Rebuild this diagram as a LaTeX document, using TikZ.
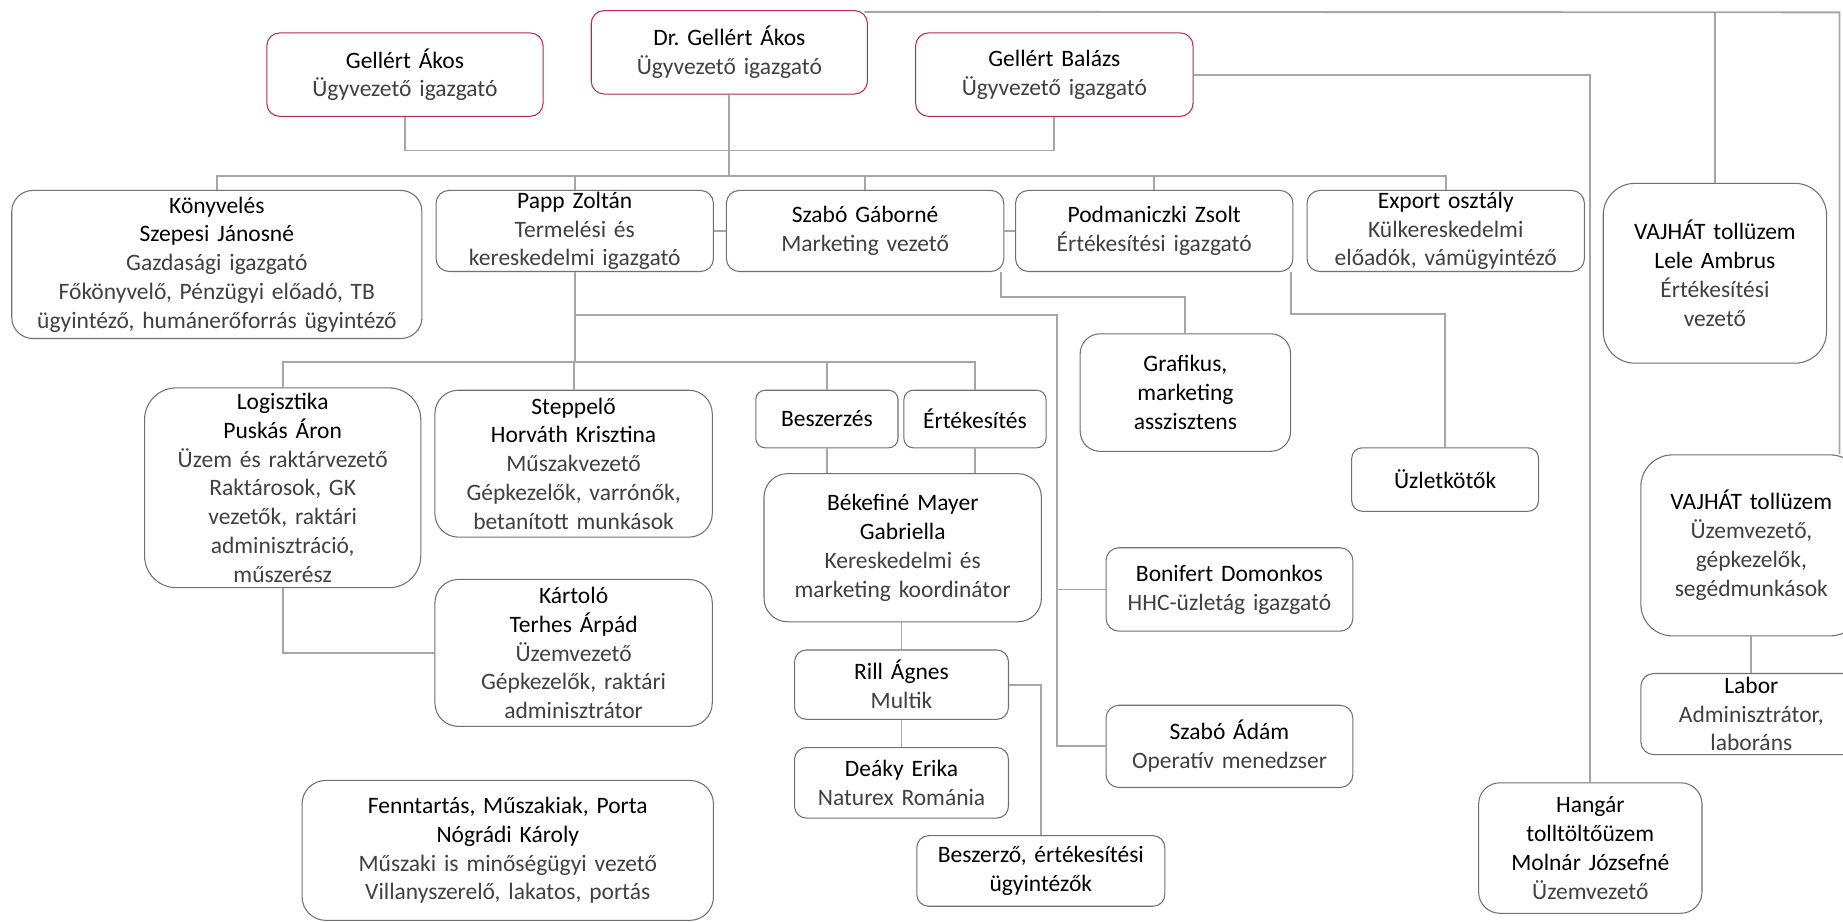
\documentclass[tikz,border=0pt]{standalone}
\usepackage{fontspec}
\setmainfont{Carlito}
\frenchspacing
\begin{document}
\begin{tikzpicture}[x=1pt, y=-1pt,
  box/.style={draw=boxgray, line width=0.9pt, fill=white, rounded corners=11, align=center, inner xsep=2pt, inner ysep=0pt, font=\fontsize{20}{24.5}\selectfont},
  topbox/.style={box, draw=topred},
  link/.style={draw=linegray, line width=1.6pt}]
\definecolor{boxgray}{HTML}{707070}
\definecolor{topred}{HTML}{B22B5A}
\definecolor{linegray}{HTML}{A6A6A6}
\definecolor{sub}{HTML}{404040}
\clip (0,0) rectangle (1568,784);
\node[topbox, text width=231, minimum height=71] (gakos) at (344.5,63.5) {Gellért Ákos\\\color{sub}Ügyvezető igazgató};
\node[topbox, text width=231, minimum height=71] (drgellert) at (620.5,44.5) {Dr. Gellért Ákos\\\color{sub}Ügyvezető igazgató};
\node[topbox, text width=232, minimum height=71] (gbalazs) at (897,63.5) {Gellért Balázs\\\color{sub}Ügyvezető igazgató};
\node[box, rounded corners=18, text width=345, minimum height=126] (konyv) at (184.5,225) {Könyvelés\\Szepesi Jánosné\\\color{sub}Gazdasági igazgató\\Főkönyvelő, Pénzügyi előadó, TB\\ügyintéző, humánerőforrás ügyintéző};
\node[box, text width=232, minimum height=69] (papp) at (489,196.5) {Papp Zoltán\\\color{sub}Termelési és\\kereskedelmi igazgató};
\node[box, text width=232, minimum height=69] (szabog) at (736,196.5) {Szabó Gáborné\\\color{sub}Marketing vezető};
\node[box, text width=232, minimum height=69] (podm) at (982,196.5) {Podmaniczki Zsolt\\\color{sub}Értékesítési igazgató};
\node[box, text width=232, minimum height=69] (export) at (1230,196.5) {Export osztály\\\color{sub}Külkereskedelmi\\előadók, vámügyintéző};
\node[box, rounded corners=27, text width=186, minimum height=153] (vajhat1) at (1459,232.5) {VAJHÁT tollüzem\\Lele Ambrus\\\color{sub}Értékesítési\\vezető};
\node[box, rounded corners=27, text width=231, minimum height=170] (logist) at (240.5,415) {Logisztika\\Puskás Áron\\\color{sub}Üzem és raktárvezető\\Raktárosok, GK\\vezetők, raktári\\adminisztráció,\\műszerész};
\node[box, rounded corners=20, text width=232, minimum height=125] (steppelo) at (488,394.5) {Steppelő\\Horváth Krisztina\\\color{sub}Műszakvezető\\Gépkezelők, varrónők,\\betanított munkások};
\node[box, rounded corners=8, text width=117, minimum height=49] (beszerzes) at (703.5,356.5) {Beszerzés};
\node[box, rounded corners=8, text width=117, minimum height=49] (ertekesites) at (829.5,356.5) {Értékesítés};
\node[box, rounded corners=20, text width=232, minimum height=126] (bekef) at (768,466) {Békefiné Mayer\\Gabriella\\\color{sub}Kereskedelmi és\\marketing koordinátor};
\node[box, rounded corners=17, text width=175, minimum height=100] (grafikus) at (1008.5,334) {Grafikus,\\marketing\\asszisztens};
\node[box, rounded corners=9, text width=155, minimum height=54] (uzlet) at (1229.5,408) {Üzletkötők};
\node[box, rounded corners=27, text width=184, minimum height=154] (vajhat2) at (1490,464) {VAJHÁT tollüzem\\\color{sub}Üzemvezető,\\gépkezelők,\\segédmunkások};
\node[box, text width=184, minimum height=69] (labor) at (1490,607.5) {Labor\\\color{sub}Adminisztrátor,\\laboráns};
\node[box, rounded corners=18, text width=186, minimum height=111] (hangar) at (1353,721.5) {Hangár\\tolltöltőüzem\\Molnár Józsefné\\\color{sub}Üzemvezető};
\node[box, text width=206, minimum height=71] (bonif) at (1046,501.5) {Bonifert Domonkos\\\color{sub}HHC-üzletág igazgató};
\node[box, text width=206, minimum height=70] (szadam) at (1046,635) {Szabó Ádám\\\color{sub}Operatív menedzser};
\node[box, rounded corners=20, text width=232, minimum height=125] (kartolo) at (488,555.5) {Kártoló\\Terhes Árpád\\\color{sub}Üzemvezető\\Gépkezelők, raktári\\adminisztrátor};
\node[box, rounded corners=10, text width=178, minimum height=59] (rill) at (767,582.5) {Rill Ágnes\\\color{sub}Multik};
\node[box, rounded corners=10, text width=178, minimum height=60] (deaky) at (767,666) {Deáky Erika\\\color{sub}Naturex Románia};
\node[box, rounded corners=10, text width=207, minimum height=60] (beszerzo) at (885.5,741) {Beszerző, értékesítési\\ügyintézők};
\node[box, rounded corners=20, text width=346, minimum height=119] (fennt) at (432,723.5) {Fenntartás, Műszakiak, Porta\\Nógrádi Károly\\\color{sub}Műszaki is minőségügyi vezető\\Villanyszerelő, lakatos, portás};
\coordinate (mgmt) at (620.5,128);
\coordinate (bar1) at (620.5,150);
\coordinate (pj) at (489,268);
\coordinate (hhc) at (899,268);
\coordinate (bar2) at (489,308);
\coordinate (rtop) at (1565,10.5);
\draw[link] (gakos.south) |- (mgmt) -| (gbalazs.south);
\draw[link] (drgellert.south) -- (bar1);
\foreach \n in {konyv,papp,szabog,podm,export} \draw[link] (bar1) -| (\n.north);
\draw[link] ([xshift=-3pt,yshift=-1.5pt]drgellert.north east) -- (rtop) -- (rtop |- vajhat2.north);
\draw[link] (vajhat1.north |- rtop) -- (vajhat1.north);
\draw[link] (gbalazs.east) -| (hangar.north);
\draw[link] (papp.east) -- (szabog.west);
\draw[link] (szabog.east) -- (podm.west);
\draw[link] ([xshift=-3pt]szabog.south east) -- ++(0,21) -| (grafikus.north);
\draw[link] ([xshift=-2pt]podm.south east) -- ++(0,36) -| (uzlet.north);
\draw[link] (papp.south) -- (bar2);
\draw[link] (pj) -- (hhc) |- (szadam.west);
\draw[link] (hhc |- bonif.west) -- (bonif.west);
\foreach \n in {logist,steppelo,beszerzes,ertekesites} \draw[link] (bar2) -| (\n.north);
\draw[link] (beszerzes.south) -- (beszerzes.south |- bekef.north);
\draw[link] (ertekesites.south) -- (ertekesites.south |- bekef.north);
\draw[link] (logist.south) |- (kartolo.west);
\draw[link] (rill.north |- bekef.south) -- (rill.north);
\draw[link] (rill.south) -- (deaky.north);
\draw[link] (rill.east) -| (beszerzo.north);
\draw[link] (vajhat2.south) -- (labor.north);
\end{tikzpicture}
\end{document}
